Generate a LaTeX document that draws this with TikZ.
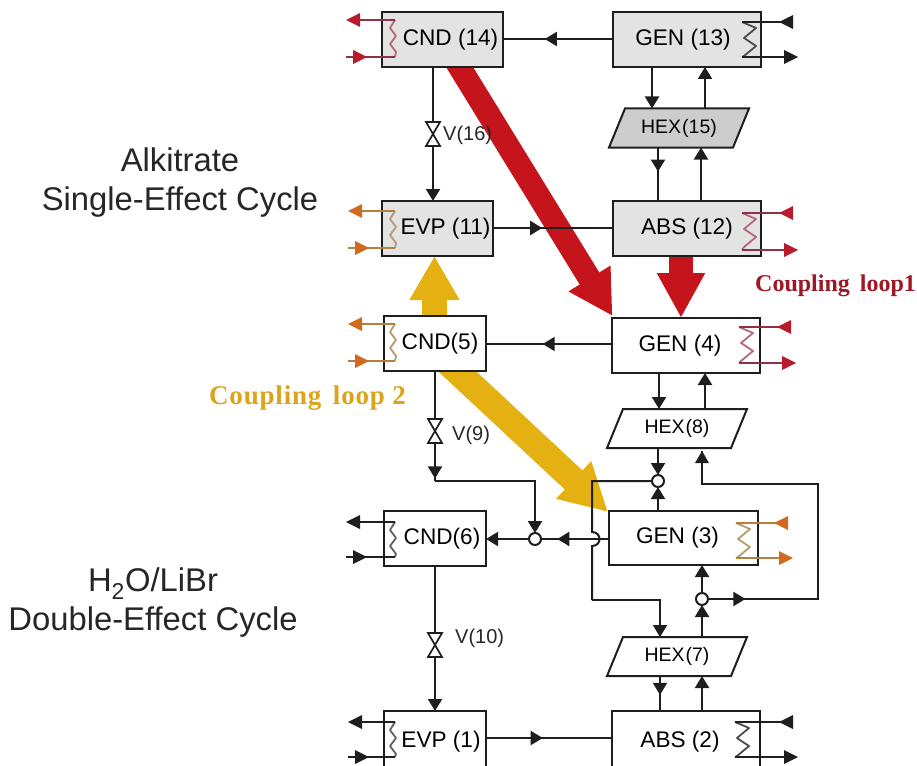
\documentclass[tikz,border=0pt]{standalone}
\usepackage{fontspec}
\setmainfont{Liberation Sans}
\newfontfamily\cplfontA{Liberation Serif}
\newfontfamily\cplfontB[LetterSpace=3]{Liberation Serif}
\usetikzlibrary{arrows.meta,decorations.markings,calc}
\definecolor{redA}{HTML}{B81C2A}
\definecolor{redL}{HTML}{8E3345}
\definecolor{redC}{HTML}{B5687A}
\definecolor{redT}{HTML}{C5141C}
\definecolor{orA}{HTML}{CF6A1E}
\definecolor{orL}{HTML}{B5803F}
\definecolor{orC}{HTML}{B89A6E}
\definecolor{yelT}{HTML}{E4B012}
\definecolor{boxG}{HTML}{E3E3E3}
\definecolor{hexG}{HTML}{CDCDCD}
\definecolor{lnK}{HTML}{1E1E1E}
\tikzset{
  x=1pt,y=-1pt,
  Tri/.tip={Triangle[length=12pt,width=14pt]},
  flow/.style={draw=lnK,line width=2pt},
  unit/.style={draw=lnK,line width=2pt,outer sep=0pt,inner sep=0pt},
  gunit/.style={unit,fill=boxG},
  wunit/.style={unit,fill=white},
  hexnode/.style={outer sep=0pt,inner sep=0pt,minimum width=124pt,minimum height=39pt,font=\fontsize{19.5}{22}\selectfont,text=black},
  hexbody/.style={draw=lnK,line width=2pt},
  junc/.style={circle,draw=lnK,fill=white,line width=2pt,minimum size=12pt,inner sep=0pt,outer sep=0pt},
  midtip/.style={postaction={decorate},decoration={markings,mark=at position #1 with {\arrow{Tri}}}},
  endtip/.style={-Tri,shorten >=0pt},
  vlabel/.style={font=\fontsize{20}{23}\selectfont,text=black!85,inner sep=0pt},
  sidetext/.style={font=\fontsize{32.8}{39}\selectfont,align=center,text=black!85,inner sep=0pt},
  cpl/.style={inner sep=0pt},
}
% box: name, x1, y1, x2, y2, style, text, text dx
\newcommand{\unitbox}[8]{\node[#6,anchor=north west,minimum width=#4pt-#2pt,minimum height=#5pt-#3pt] (#1) at (#2,#3) {};
  \node[font=\fontsize{22.6}{26}\selectfont,text=black,inner sep=0pt] (#1t) at (#2/2+#4/2+#8,#3/2+#5/2) {#7};}
% hex: name, center x, center y, fill, text
\newcommand{\hexbox}[5]{\node[hexnode] (#1) at (#2,#3) {};
  \draw[hexbody,fill=#4] ($(#1.north west)+(8,0)$) -- ($(#1.north east)+(8,0)$) -- ($(#1.south east)+(-8,0)$) -- ($(#1.south west)+(-8,0)$) -- cycle;
  \node[hexnode] (#1t) at (#2,#3) {#5};}
% valve: name, x, y
\newcommand{\valve}[3]{\node[inner sep=0pt,minimum width=15pt,minimum height=26pt] (#1) at (#2,#3) {};
  \draw[lnK,line width=1.7pt,fill=white] (#2-7,#3-12) -- (#2+7,#3-12) -- (#2-7,#3+12) -- (#2+7,#3+12) -- cycle;}
% left coil: x of coil, top y, bottom y, line col, coil col, tip col, far x
\newcommand{\lcoil}[7]{
  \draw[#5,line width=1.8pt,line join=round] (#1,#2) -- (#1-5,#2+8) -- (#1+1,#2+16) -- (#1-5,#2+24) -- (#1+1,#2+32) -- (#1,#3);
  \draw[#4,line width=2pt] (#1,#2) -- (#7+12,#2);
  \draw[#4,line width=2pt] (#1,#3) -- (#7,#3);
  \fill[#6] (#7,#2) -- (#7+14,#2-7) -- (#7+14,#2+7) -- cycle;
  \fill[#6] (#7+21,#3) -- (#7+7,#3-7) -- (#7+7,#3+7) -- cycle;}
% right coil: x of coil, top y, bottom y, line col, coil col, tip col, far x
\newcommand{\rcoil}[7]{
  \draw[#5,line width=1.8pt,line join=round] (#1,#2) -- (#1+14,#2+6) -- (#1+2,#2+16) -- (#1+14,#2+24) -- (#1+2,#2+34) -- (#1,#3);
  \draw[#4,line width=2pt] (#1,#2) -- (#7-12,#2);
  \draw[#4,line width=2pt] (#1,#3) -- (#7-10,#3);
  \fill[#6] (#7-19,#2) -- (#7-5,#2-7) -- (#7-5,#2+7) -- cycle;
  \fill[#6] (#7,#3) -- (#7-14,#3-7) -- (#7-14,#3+7) -- cycle;}
\begin{document}
\begin{tikzpicture}
\useasboundingbox (0,0) rectangle (917,765);
\clip (0,0) rectangle (917,765);
% anchors for the thick arrows
\coordinate (r1a) at (454.6,59);
\coordinate (r1b) at (612.5,316);
\coordinate (y2a) at (445,360);
\coordinate (y2b) at (608,512);
\draw[line width=23pt,redT,-{Triangle[length=44pt,width=46pt]}] (r1a) -- (r1b);
\draw[line width=26pt,yelT,-{Triangle[length=47pt,width=48pt]}] (y2a) -- (y2b);
\draw[line width=25pt,yelT,-{Triangle[length=44pt,width=47pt]}] (434.5,325) -- (434.5,256);
\draw[line width=24pt,redT,-{Triangle[length=45pt,width=45pt]}] (681,250) -- (681,318);
% units
\unitbox{cnd14}{382}{12}{503}{67}{gunit}{CND (14)}{8}
\unitbox{gen13}{613}{12}{761}{67}{gunit}{GEN (13)}{-4}
\unitbox{abs12}{613}{201}{761}{256}{gunit}{ABS (12)}{0}
\unitbox{evp11}{382}{201}{493}{256}{gunit}{EVP (11)}{8}
\unitbox{cnd5}{384}{316}{486}{371}{wunit}{CND(5)}{5}
\unitbox{gen4}{612}{318}{760}{373}{wunit}{GEN (4)}{-6}
\unitbox{gen3}{609}{511}{758}{565}{wunit}{GEN (3)}{-6}
\unitbox{cnd6}{384}{511}{486}{566}{wunit}{CND(6)}{7}
\unitbox{abs2}{612}{711}{760}{772}{wunit}{ABS (2)}{-6}
\unitbox{evp1}{384}{711}{486}{772}{wunit}{EVP (1)}{6}
\hexbox{hex15}{679}{128}{hexG}{HEX\hspace{1pt}(15)}
\hexbox{hex8}{677}{428.5}{white}{HEX\hspace{1pt}(8)}
\hexbox{hex7}{677}{656.5}{white}{HEX\hspace{1pt}(7)}
% valves and junctions
\valve{v16}{433}{134}
\valve{v9}{435}{431}
\valve{v10}{435}{645}
\node[junc] (j1) at (658,481) {};
\node[junc] (j2) at (535,539) {};
\node[junc] (j3) at (702,599) {};
\coordinate (c9) at (435,481);
\coordinate (ctop) at (592,481);
\coordinate (cleft) at (592,600);
\coordinate (cbr) at (818,484);
\coordinate (cbb) at (818,599);
\coordinate (chex8) at (702,451);
% horizontal links
\draw[flow,midtip=0.62] (gen13.west |- 0,39) -- (cnd14.east |- 0,39);
\draw[flow,midtip=0.41] (evp11.east |- 0,228) -- (abs12.west |- 0,228);
\draw[flow,midtip=0.55] (gen4.west |- 0,344) -- (cnd5.east |- 0,344);
\draw[flow,midtip=0.45] (evp1.east |- 0,738) -- (abs2.west |- 0,738);
% vertical links, upper cycle
\draw[flow] (cnd14.south -| v16) -- (v16);
\draw[flow,endtip] (v16) -- (evp11.north -| v16);
\draw[flow,endtip] (gen13.south -| 652,0) -- (hex15.north -| 652,0);
\draw[flow,endtip] (hex15.north -| 705,0) -- (gen13.south -| 705,0);
\draw[flow,midtip=0.45] (hex15.south -| 658,0) -- (abs12.north -| 658,0);
\draw[flow,endtip] (abs12.north -| 701,0) -- (hex15.south -| 701,0);
% vertical links, lower cycle
\draw[flow,endtip] (gen4.south -| 659,0) -- (hex8.north -| 659,0);
\draw[flow,endtip] (hex8.north -| 705,0) -- (gen4.south -| 705,0);
\draw[flow] (cnd5.south -| v9) -- (v9);
\draw[flow,midtip=0.93] (v9) -- (c9);
\draw[flow,endtip] (c9) -| (j2);
\draw[flow,endtip] (j2) -- (cnd6.east |- j2);
\draw[flow,midtip=0.76] (gen3.west |- j2) -- (j2);
\draw[flow] (cnd6.south -| v10) -- (v10);
\draw[flow,endtip] (v10) -- (evp1.north -| v10);
\draw[flow,endtip] (hex8.south -| j1) -- (j1);
\draw[flow,endtip] (gen3.north -| j1) -- (j1);
\draw[flow] (j1) -- (ctop) -- (592,532) .. controls (602,532) and (602,546) .. (592,546) -- (cleft);
\draw[flow,endtip] (cleft) -| (hex7.north -| 660,0);
\draw[flow,endtip] (j3) -- (gen3.south -| j3);
\draw[flow,endtip] (hex7.north -| j3) -- (j3);
\draw[flow,midtip=0.1] (j3) -- (cbb) -- (cbr) -- (702,484) -- (chex8);
\fill[lnK] (chex8) -- (695,463) -- (709,463) -- cycle;
\draw[flow,midtip=0.54] (hex7.south -| 660,0) -- (abs2.north -| 660,0);
\draw[flow,endtip] (abs2.north -| 702,0) -- (hex7.south -| 702,0);
% coils
\lcoil{395}{20}{57}{redL}{redC}{redA}{346}
\lcoil{395}{211}{248}{orL}{orC}{orA}{348}
\lcoil{395}{324}{361}{orL}{orC}{orA}{348}
\lcoil{395}{522}{557}{lnK}{lnK!70}{lnK}{346}
\lcoil{395}{722}{757}{lnK}{lnK!70}{lnK}{348}
\rcoil{742}{22}{57}{lnK}{lnK!80}{lnK}{798}
\rcoil{742}{213}{250}{redL}{redC}{redA}{798}
\rcoil{739}{327}{363}{redL}{redC}{redA}{796}
\rcoil{736}{523}{558}{orL}{orC}{orA}{793}
\rcoil{735}{722}{757}{lnK}{lnK!80}{lnK}{798}
% labels
\node[vlabel,anchor=west] (l16) at (443,135) {V(16)};
\node[vlabel,anchor=west] (l9) at (452,435) {V(9)};
\node[vlabel,anchor=west] (l10) at (455,638) {V(10)};
\node[sidetext] (s1) at (180,183) {Alkitrate\\Single-Effect Cycle};
\node[sidetext] (s2) at (153,603) {H\textsubscript{2}O/LiBr\\Double-Effect Cycle};
\node[cpl,text=redA!85!black,anchor=west,font=\cplfontA\bfseries\fontsize{24}{27}\selectfont] (cp1) at (755,286) {Coupling\hspace{4pt} loop1};
\node[cpl,text=yelT!75!brown,anchor=west,font=\cplfontB\bfseries\fontsize{27}{30}\selectfont] (cp2) at (209,398) {Coupling\hspace{4pt} loop 2};
\end{tikzpicture}
\end{document}
